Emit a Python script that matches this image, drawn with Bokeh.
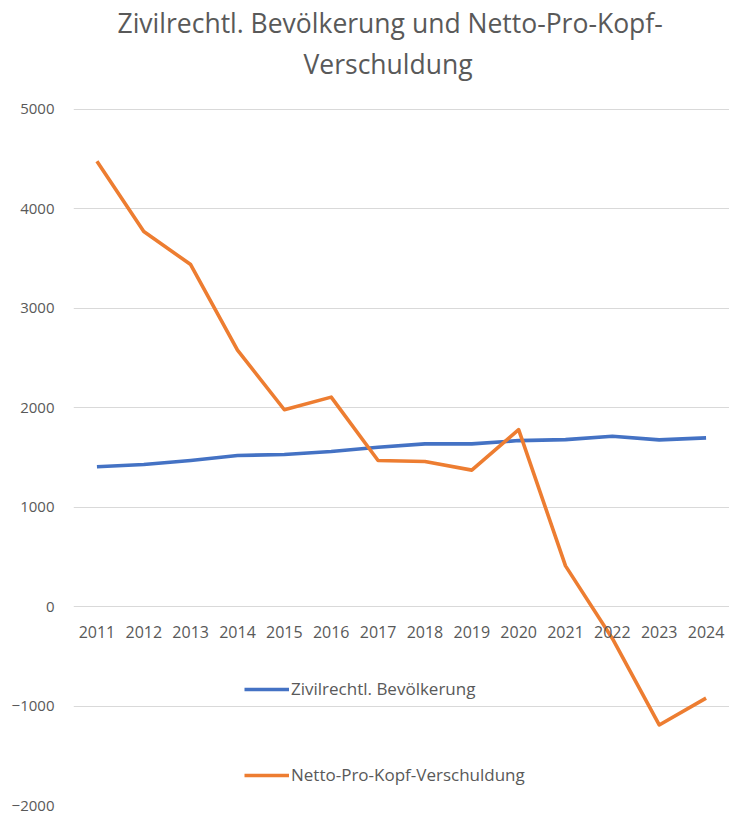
from bokeh.plotting import figure
from bokeh.models import Title, FixedTicker, Legend, LegendItem, ColumnDataSource, Range1d
from bokeh.core.properties import value
from bokeh.embed import file_html
from bokeh.resources import INLINE

years = [2011, 2012, 2013, 2014, 2015, 2016, 2017, 2018, 2019, 2020, 2021, 2022, 2023, 2024]
year_labels = [str(y) for y in years]
bevoelkerung = [1407, 1430, 1470, 1520, 1530, 1560, 1603, 1637, 1637, 1670, 1680, 1713, 1677, 1697]
verschuldung = [4480, 3773, 3440, 2580, 1980, 2107, 1470, 1460, 1373, 1780, 410, -320, -1190, -920]
y_ticks = [-2000, -1000, 0, 1000, 2000, 3000, 4000, 5000]

title_1 = "Zivilrechtl. Bevölkerung und Netto-Pro-Kopf-"
title_2 = "Verschuldung"
name_1 = "Zivilrechtl. Bevölkerung"
name_2 = "Netto-Pro-Kopf-Verschuldung"

FONT = "Open Sans"
GREY = "#595959"

p = figure(width=729, height=814, output_backend="svg", toolbar_location=None,
           x_range=Range1d(2010.5, 2024.5), y_range=Range1d(-2000, 5241),
           min_border_left=73, min_border_right=0, min_border_top=85, min_border_bottom=9)
p.title = None
p.outline_line_color = None
p.background_fill_color = "white"
p.border_fill_color = "white"

t2 = Title(text=title_2, align="left", text_font=FONT, text_font_size="26.5px",
           text_color=GREY, text_font_style="normal", standoff=7, offset=230)
t1 = Title(text=title_1, align="left", text_font=FONT, text_font_size="26.5px",
           text_color=GREY, text_font_style="normal", standoff=0, offset=44)
p.add_layout(t2, "above")
p.add_layout(t1, "above")

p.xaxis.visible = False
p.xgrid.visible = False
p.yaxis.ticker = FixedTicker(ticks=y_ticks)
p.ygrid.ticker = FixedTicker(ticks=y_ticks)
p.ygrid.grid_line_color = "#D9D9D9"
p.ygrid.grid_line_width = 1
p.yaxis.axis_line_color = None
p.yaxis.major_tick_line_color = None
p.yaxis.minor_tick_line_color = None
p.yaxis.major_label_standoff = 13
p.yaxis.major_label_text_font = FONT
p.yaxis.major_label_text_font_size = "15px"
p.yaxis.major_label_text_color = GREY

src = ColumnDataSource(dict(x=years, b=bevoelkerung, v=verschuldung, lab=year_labels,
                            zero=[0] * len(years)))

r1 = p.line("x", "b", source=src, line_color="#4472C4", line_width=3.6, line_join="round")
r2 = p.line("x", "v", source=src, line_color="#ED7D31", line_width=3.6, line_join="round")

p.text("x", "zero", text="lab", source=src, text_font=value(FONT), text_font_size="16px",
       text_color=GREY, text_align="center", text_baseline="middle", y_offset=25)

legend = Legend(items=[LegendItem(label=name_1, renderers=[r1]),
                       LegendItem(label=name_2, renderers=[r2])],
                location=(171, 19), orientation="vertical", padding=0, margin=0,
                spacing=63, glyph_width=45, glyph_height=20, label_standoff=2,
                border_line_color=None, background_fill_alpha=0,
                label_text_font=FONT, label_text_font_size="17px", label_text_color=GREY)
p.add_layout(legend)

open("out.html", "w").write(file_html(p, INLINE))
